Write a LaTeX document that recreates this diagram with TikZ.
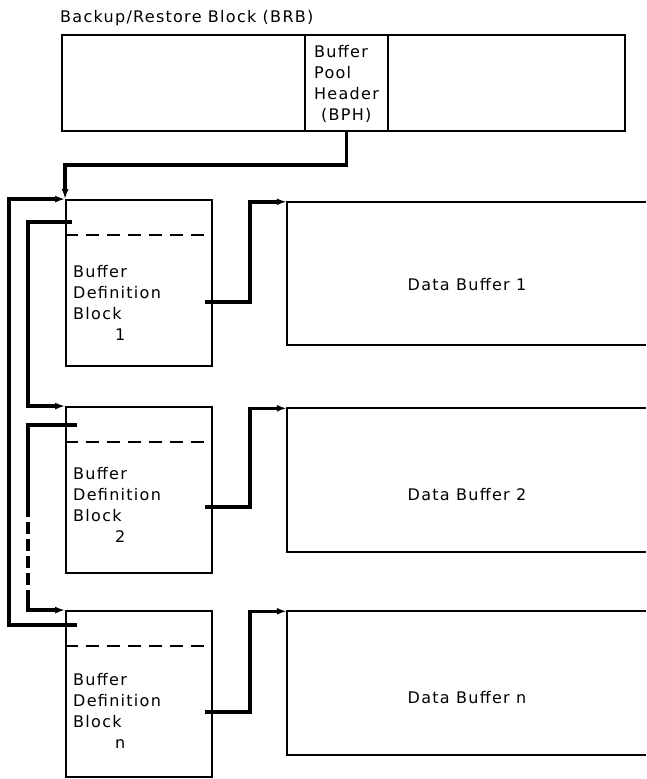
\documentclass[tikz,border=0pt]{standalone}
\usepackage{fontspec}
\setmainfont{DejaVu Sans}[LetterSpace=8]
\usetikzlibrary{arrows.meta}

\tikzset{
  block/.style={draw, line width=1.8pt, inner sep=0pt},
  link/.style={line width=3.4pt, -{Latex[length=10pt,width=7pt]}},
  sep/.style={line width=2.5pt, dash pattern=on 13pt off 8pt},
  txt/.style={inner sep=0pt, align=left, anchor=north west}
}

\begin{document}
\begin{tikzpicture}[x=1pt, y=-1pt, font=\fontsize{16}{21}\selectfont]
        \useasboundingbox (0,0) rectangle (646,779);

        % Nodes
        \node[anchor=base west, inner sep=0pt] (T) at (60,23) {Backup/Restore Block (BRB)};
        \node[block, line width=2.3pt, minimum width=563pt, minimum height=96pt] (BRB) at (343.5,83) {};
        \node[block, line width=2.3pt, minimum width=83pt, minimum height=96pt] (BPH) at (346.5,83) {};
        \node[txt, text depth=0pt] (BPHt) at (314,45) {Buffer\\Pool\\Header\\\hspace*{7pt}(BPH)};

        \node[block, minimum width=146pt, minimum height=166pt] (B1) at (139,283) {};
        \node[block, minimum width=146pt, minimum height=166pt] (B2) at (139,490) {};
        \node[block, minimum width=146pt, minimum height=166pt] (Bn) at (139,694) {};
        \node[txt] (B1t) at (73,265) {Buffer\\Definition\\Block\\\hspace*{42pt}1};
        \node[txt] (B2t) at (73,467) {Buffer\\Definition\\Block\\\hspace*{42pt}2};
        \node[txt] (Bnt) at (73,673) {Buffer\\Definition\\Block\\\hspace*{42pt}n};

        \node[inner sep=0pt, minimum width=359pt, minimum height=143pt] (D1) at (466.5,273.5) {};
        \node[inner sep=0pt, minimum width=359pt, minimum height=143pt] (D2) at (466.5,480) {};
        \node[inner sep=0pt, minimum width=359pt, minimum height=143pt] (Dn) at (466.5,683) {};
        \node[anchor=base] (D1t) at (467,290) {Data Buffer 1};
        \node[anchor=base] (D2t) at (467,500) {Data Buffer 2};
        \node[anchor=base] (Dnt) at (467,703) {Data Buffer n};

        % pointer fields
        \coordinate (s1) at (72,222);
        \coordinate (s2) at (77,425);
        \coordinate (sn) at (77,625);
        \coordinate (r1) at (205,302);
        \coordinate (r2) at (205,507);
        \coordinate (rn) at (205,712);

        % Boxes
        \foreach \b in {B1,B2,Bn}
          \draw[sep] ([yshift=-36pt]\b.north west) -- ([yshift=-36pt]\b.north east);
        \foreach \d in {D1,D2,Dn}
          \draw[line width=1.8pt] (\d.north east) -| (\d.south west) -- (\d.south east);

        % Edges
        \draw[link] (BPH.south) -- ++(0,33) -| (B1.north west);
        \draw[link] (sn) -- ++(-68,0) |- (B1.north west);
        \draw[link] (s1) -- ++(-44,0) |- (B2.north west);
        \draw[line width=3.4pt] (s2) -- ++(-49,0) -- ++(0,80) coordinate (g1);
        \draw[line width=3.4pt, dash pattern=on 12pt off 5pt] (g1) -- ++(0,85) coordinate (g2);
        \draw[link] (g2) |- (Bn.north west);
        \draw[link] (r1) -- ++(45,0) |- (D1.north west);
        \draw[link] (r2) -- ++(45,0) |- (D2.north west);
        \draw[link] (rn) -- ++(45,0) |- (Dn.north west);
    \end{tikzpicture}
\end{document}
